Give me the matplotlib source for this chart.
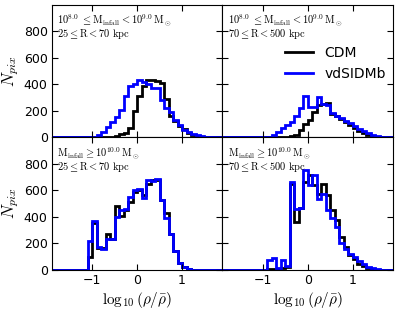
import numpy as np
import matplotlib
matplotlib.use("Agg")
import matplotlib.pyplot as plt

plt.rcParams['mathtext.fontset'] = 'cm'

# bin edges of log10(rho/rhobar), 0.1 wide
edges = np.round(np.arange(-2.0, 2.01, 0.1), 2)

# 1e8-1e9 Msun, 25-70 kpc
tl_cdm = [0]*10 + [0, 0, 0, 2, 5, 12, 25, 35, 72, 200,
                   310, 390, 435, 435, 425, 410, 290, 165, 125, 90,
                   62, 35, 18, 8, 4, 2, 1, 0, 0, 0]
tl_sidm = [0]*10 + [5, 18, 45, 80, 120, 158, 205, 310, 385, 405,
                    430, 420, 400, 375, 370, 285, 220, 190, 135, 95,
                    60, 38, 24, 15, 9, 5, 3, 1, 0, 0]

# 1e8-1e9 Msun, 70-500 kpc
tr_cdm = [0]*14 + [2, 4, 8, 22, 60, 102,
                   135, 190, 242, 256, 258, 178, 165, 138, 118, 96,
                   74, 52, 35, 20, 10, 5, 2, 0, 0, 0]
tr_sidm = [0]*11 + [5, 18, 38, 75, 92, 120, 165, 225, 310,
                    228, 228, 305, 250, 248, 185, 165, 148, 128, 108,
                    86, 67, 49, 33, 22, 13, 7, 3, 1, 0]

# >1e10 Msun, 25-70 kpc
bl_cdm = [0]*9 + [100, 355, 165, 165, 270, 236, 485, 410, 450, 515, 590,
                  600, 565, 650, 680, 680, 530, 430, 270, 145, 50,
                  22, 6, 2, 0, 0, 0, 0, 0, 0, 0]
bl_sidm = [0]*9 + [220, 372, 172, 158, 232, 236, 400, 455, 462, 550, 605,
                   612, 540, 680, 675, 685, 530, 395, 270, 140, 50,
                   20, 6, 2, 0, 0, 0, 0, 0, 0, 0]

# >1e10 Msun, 70-500 kpc
br_cdm = [0]*10 + [2, 5, 8, 6, 15, 25, 650, 360, 465, 665,
                   715, 640, 570, 645, 565, 450, 375, 250, 172, 110,
                   80, 46, 33, 12, 5, 2, 0, 0, 0, 0]
br_sidm = [0]*10 + [3, 72, 88, 18, 72, 28, 665, 460, 470, 755,
                    640, 715, 535, 570, 455, 390, 325, 200, 160, 122,
                    97, 70, 46, 25, 12, 5, 2, 0, 0, 0]

mass_top = r'$10^{8.0}\ \leq \mathrm{M_{infall}} < 10^{9.0}\,\mathrm{M_\odot}$'
mass_bot = r'$\mathrm{M_{infall}} \geq 10^{10.0}\,\mathrm{M_\odot}$'
rad_in = r'$25 \leq \mathrm{R} < 70\ \mathrm{kpc}$'
rad_out = r'$70 \leq \mathrm{R} < 500\ \mathrm{kpc}$'

panels = [
    (tl_cdm, tl_sidm, mass_top, rad_in),
    (tr_cdm, tr_sidm, mass_top, rad_out),
    (bl_cdm, bl_sidm, mass_bot, rad_in),
    (br_cdm, br_sidm, mass_bot, rad_out),
]

fig, axes = plt.subplots(2, 2, figsize=(3.99, 3.11), dpi=100, sharex=True, sharey=True)
fig.subplots_adjust(left=0.130, right=0.985, top=0.984, bottom=0.132,
                    wspace=0, hspace=0)

for ax, (cdm, sidm, txt1, txt2) in zip(axes.flat, panels):
    ax.stairs(cdm, edges, color='black', lw=2, label='CDM')
    ax.stairs(sidm, edges, color='blue', lw=2, label='vdSIDMb')
    ax.text(0.03, 0.885, txt1, transform=ax.transAxes, fontsize=7.5, va='center')
    ax.text(0.03, 0.78, txt2, transform=ax.transAxes, fontsize=7.5, va='center')
    ax.set_xlim(-1.9, 1.9)
    ax.set_ylim(0, 1000)
    ax.set_xticks([-1, 0, 1])
    ax.set_yticks([0, 200, 400, 600, 800])
    ax.tick_params(direction='in', top=True, right=True, length=4,
                   labelsize=9, pad=3)

for ax in axes[:, 0]:
    ax.set_ylabel(r'$N_{pix}$', fontsize=12, labelpad=2)
for ax in axes[1, :]:
    ax.set_xlabel(r'$\log_{10}(\rho/\bar{\rho})$', fontsize=11, labelpad=2)

axes[0, 1].legend(loc='center right', bbox_to_anchor=(0.99, 0.56),
                  borderaxespad=0, frameon=False, fontsize=10,
                  handlelength=2, handletextpad=0.8, labelspacing=0.5)

fig.savefig('out.png', dpi=100)
